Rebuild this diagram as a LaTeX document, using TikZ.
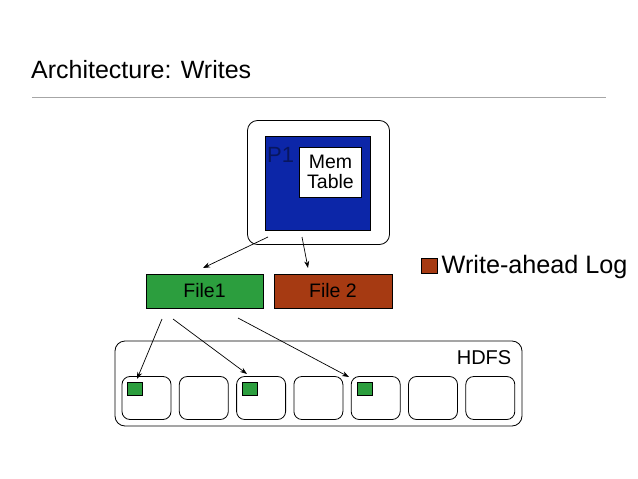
\documentclass[tikz,border=0pt]{standalone}
\usepackage{fontspec}
\setmainfont{Liberation Sans}
\usetikzlibrary{arrows.meta,calc}
\definecolor{pblue}{RGB}{12,38,168}
\definecolor{pnavy}{RGB}{8,22,95}
\definecolor{fgreen}{RGB}{44,158,62}
\definecolor{fbrown}{RGB}{166,58,18}
\tikzset{
  box/.style={draw=black, line width=0.8pt, rectangle, inner sep=0pt},
  rbox/.style={box, rounded corners=10pt},
  blk/.style={box, rounded corners=8pt, minimum width=49pt, minimum height=43pt},
  sq/.style={box, line width=0.5pt, fill=fgreen, minimum width=15pt, minimum height=13pt},
  arr/.style={-{Stealth[length=7pt,width=5pt]}, line width=0.7pt},
  lbl/.style={inner sep=0pt, font=\fontsize{19.5}{22}\selectfont}
}
\begin{document}
\begin{tikzpicture}[x=1pt,y=-1pt]
\useasboundingbox (0,0) rectangle (638,479);
\fill[white] (0,0) rectangle (638,479);
% title
\node[inner sep=0pt, anchor=base west, font=\fontsize{25}{28}\selectfont] (title) at (31,78) {Architecture: Writes};
\draw[gray!70, line width=0.8pt] (32,97) -- (606,97);
% P1 region
\node[rbox, minimum width=142pt, minimum height=124pt] (outer) at (318.5,182.5) {};
\node[box, fill=pblue, minimum width=105pt, minimum height=94pt] (blue) at (318,183) {};
\node[inner sep=0pt, anchor=base west, text=pnavy, font=\fontsize{22}{24}\selectfont] (p1) at (267,162) {P1};
\node[box, fill=white, line width=0.5pt, minimum width=62pt, minimum height=50pt, align=center, font=\fontsize{19.5}{20}\selectfont] (mem) at (330.5,172) {Mem\\Table};
% files
\node[box, fill=fgreen, minimum width=117pt, minimum height=34pt, lbl] (file1) at (204.5,291) {File1};
\node[box, fill=fbrown, minimum width=118pt, minimum height=34pt, lbl] (file2) at (333,291) {File 2};
% legend
\node[box, line width=0.5pt, fill=fbrown, minimum width=16pt, minimum height=15pt] (legsq) at (429.5,265.5) {};
\node[inner sep=0pt, anchor=base west, font=\fontsize{25.2}{27}\selectfont] (legtxt) at (441.5,273) {Write-ahead Log};
% HDFS
\node[rbox, minimum width=407pt, minimum height=85pt] (hdfs) at (318.5,383.5) {};
\node[inner sep=0pt, anchor=base east, font=\fontsize{20}{22}\selectfont] (hdfslbl) at (511.5,364) {HDFS};
\foreach \i in {0,...,6} {
  \node[blk] (b\i) at ({146.5+57.3*\i},398) {};
}
\node[sq] (g0) at ($(b0.north west)+(13.5,12.5)$) {};
\node[sq] (g2) at ($(b2.north west)+(13.5,12.5)$) {};
\node[sq] (g4) at ($(b4.north west)+(13.5,12.5)$) {};
% arrows
\coordinate (s1) at (268,237);
\coordinate (e1) at (203,268);
\coordinate (s2) at (302,237);
\coordinate (e2) at (308,268);
\draw[arr] (s1) -- (e1);
\draw[arr] (s2) -- (e2);
\coordinate (f1) at (162,319);
\coordinate (t1) at (137,379);
\coordinate (f2) at (173,319);
\coordinate (t2) at (247,374);
\coordinate (f3) at (238,318);
\coordinate (t3) at (349,377);
\draw[arr] (f1) -- (t1);
\draw[arr] (f2) -- (t2);
\draw[arr] (f3) -- (t3);
\end{tikzpicture}
\end{document}
